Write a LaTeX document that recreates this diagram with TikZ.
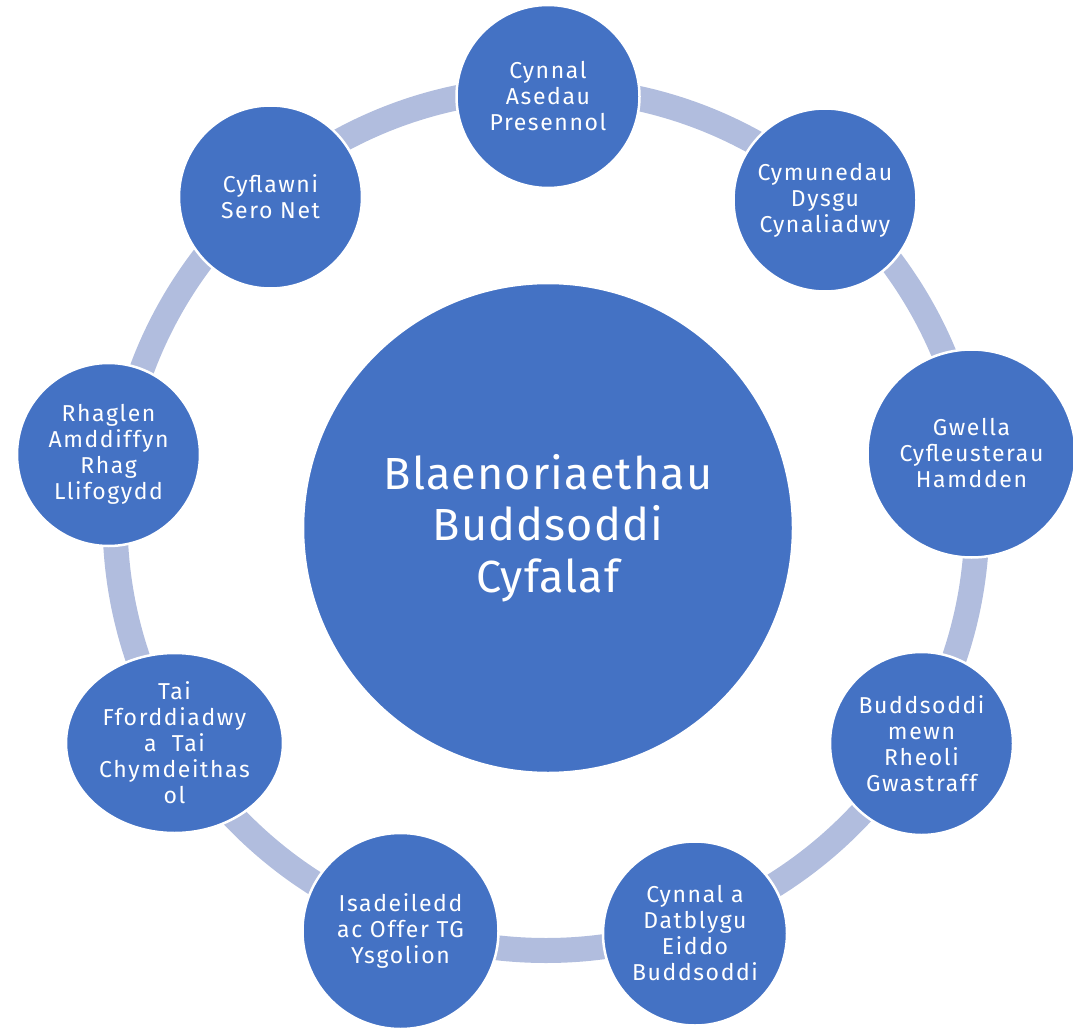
\documentclass[tikz,border=0pt]{standalone}
\usepackage{fontspec}
\setmainfont{Fira Sans}
\newfontfamily\smallface[LetterSpace=7]{Fira Sans}
\newfontfamily\bigface[LetterSpace=2.5]{Fira Sans}
\usetikzlibrary{shapes.geometric}
\definecolor{nodeblue}{HTML}{4472C4}
\definecolor{ringblue}{RGB}{177,189,222}
\begin{document}
\begin{tikzpicture}[x=1pt,y=-1pt,
  ringline/.style={draw=ringblue,line width=25pt},
  bubble/.style={circle,fill=nodeblue,draw=white,line width=2.5pt,inner sep=0pt,
    text=white,align=center,font=\smallface\fontsize{23}{26}\selectfont},
  hub/.style={circle,fill=nodeblue,draw=white,line width=2.5pt,inner sep=0pt,
    text=white,align=center,font=\bigface\fontsize{45}{51.5}\selectfont,minimum size=490pt}]
\useasboundingbox (0,0) rectangle (1073,1032);
\coordinate (rc) at (546,519.5);
\draw[ringline] (rc) circle[radius=431pt];
\node[hub] (centre) at (548,528) {Blaenoriaethau\\Buddsoddi\\Cyfalaf};
\node[bubble,minimum size=183pt] (n1) at (548,96.5) {Cynnal\\Asedau\\Presennol};
\node[bubble,minimum size=183pt] (n2) at (825,200) {Cymunedau\\Dysgu\\Cynaliadwy};
\node[bubble,minimum size=208pt] (n3) at (971.5,453.5) {Gwella\\Cyfleusterau\\Hamdden};
\node[bubble,minimum size=183pt] (n4) at (921.5,743.5) {Buddsoddi\\mewn\\Rheoli\\Gwastraff};
\node[bubble,minimum size=184pt] (n5) at (695,933.5) {Cynnal a\\Datblygu\\Eiddo\\Buddsoddi};
\node[bubble,minimum size=196pt] (n6) at (400.5,931) {Isadeiledd\\ac Offer TG\\Ysgolion};
\node[bubble,ellipse,minimum width=217pt,minimum height=180pt] (n7) at (174.5,743) {Tai\\Fforddiadwy\\a~~Tai\\Chymdeithas\\ol};
\node[bubble,minimum size=183pt] (n8) at (108.5,454.5) {Rhaglen\\Amddiffyn\\Rhag\\Llifogydd};
\node[bubble,minimum size=183pt] (n9) at (270.5,197) {Cyflawni\\Sero Net};
\end{tikzpicture}
\end{document}
